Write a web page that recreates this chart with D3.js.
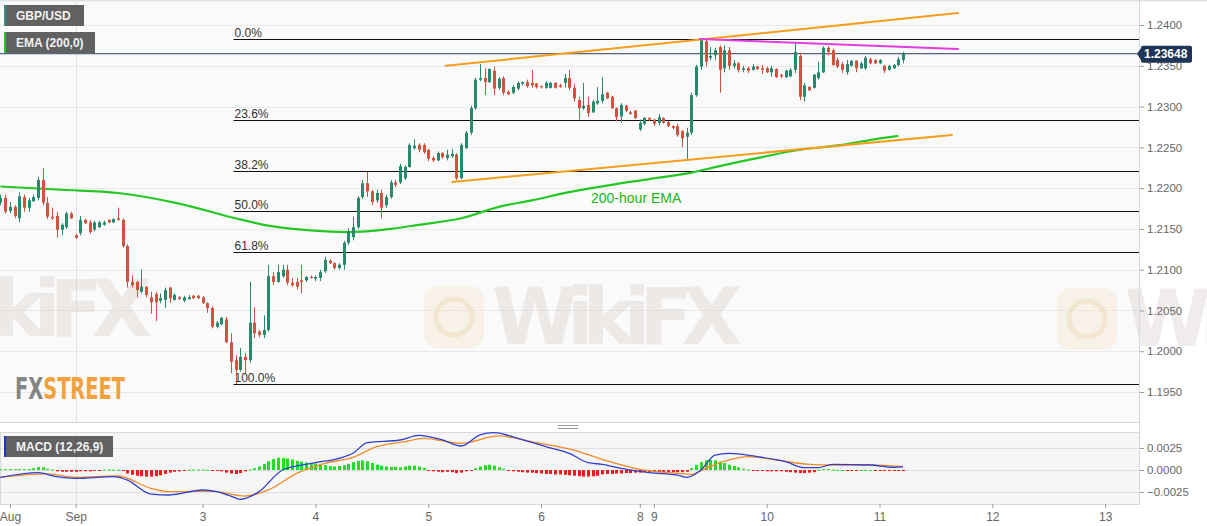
<!DOCTYPE html>
<html><head><meta charset="utf-8">
<script src="https://cdn.jsdelivr.net/npm/d3@7/dist/d3.min.js"></script>
<style>
body{margin:0;background:#fff;}
svg{display:block;font-family:"Liberation Sans",Arial,sans-serif;}
</style>
</head><body>
<svg id="chart" width="1207" height="526"></svg>
<script>
// ---------- DATA (hourly candles, index = hour) ----------
const opens = [1.2182,1.2188,1.2172,1.2177,1.2163,1.2189,1.2176,1.2184,1.2188,1.2210,
1.2182,1.2165,1.2166,1.2149,1.2152,1.2169,1.2142,1.2145,1.2161,1.2158,
1.2149,1.2152,1.2155,1.2161,1.2158,1.2163,1.2161,1.2129,1.2085,1.2085,
1.2073,1.2079,1.2066,1.2070,1.2062,1.2063,1.2078,1.2063,1.2066,1.2062,
1.2064,1.2068,1.2068,1.2066,1.2059,1.2053,1.2030,1.2033,1.2039,1.2011,
1.1989,1.1977,1.1993,1.1989,1.2035,1.2024,1.2020,1.2026,1.2092,1.2085,
1.2092,1.2100,1.2084,1.2085,1.2087,1.2087,1.2091,1.2089,1.2090,1.2098,
1.2111,1.2108,1.2102,1.2106,1.2133,1.2140,1.2152,1.2189,1.2206,1.2196,
1.2185,1.2194,1.2179,1.2189,1.2207,1.2207,1.2212,1.2226,1.2249,1.2253,
1.2253,1.2247,1.2237,1.2234,1.2243,1.2237,1.2239,1.2241,1.2212,1.2249,
1.2268,1.2298,1.2333,1.2335,1.2330,1.2344,1.2323,1.2335,1.2318,1.2317,
1.2322,1.2328,1.2330,1.2329,1.2328,1.2325,1.2323,1.2323,1.2329,1.2326,
1.2329,1.2335,1.2323,1.2308,1.2298,1.2302,1.2293,1.2304,1.2307,1.2317,
1.2312,1.2298,1.2288,1.2301,1.2293,1.2295,1.2272,1.2279,1.2286,1.2284,
1.2280,1.2286,1.2281,1.2276,1.2276,1.2270,1.2263,1.2268,1.2314,1.2349,
1.2380,1.2360,1.2363,1.2373,1.2347,1.2369,1.2350,1.2353,1.2345,1.2347,
1.2345,1.2349,1.2347,1.2347,1.2342,1.2346,1.2339,1.2336,1.2337,1.2345,
1.2362,1.2312,1.2324,1.2323,1.2335,1.2342,1.2372,1.2369,1.2357,1.2352,
1.2342,1.2350,1.2356,1.2347,1.2347,1.2358,1.2357,1.2353,1.2350,1.2345,
1.2347,1.2351,1.2357];
const highs = [1.2192,1.2192,1.2183,1.2179,1.2195,1.2192,1.2188,1.2192,1.2214,1.2225,
1.2189,1.2176,1.2171,1.2157,1.2171,1.2171,1.2144,1.2166,1.2162,1.2161,
1.2160,1.2160,1.2160,1.2162,1.2163,1.2176,1.2163,1.2131,1.2093,1.2086,
1.2100,1.2080,1.2073,1.2073,1.2071,1.2078,1.2079,1.2071,1.2068,1.2068,
1.2069,1.2069,1.2069,1.2068,1.2060,1.2055,1.2037,1.2042,1.2042,1.2022,
1.1995,1.2004,1.1998,1.2085,1.2054,1.2026,1.2044,1.2106,1.2097,1.2106,
1.2106,1.2106,1.2090,1.2090,1.2106,1.2092,1.2093,1.2093,1.2100,1.2116,
1.2113,1.2109,1.2108,1.2135,1.2151,1.2165,1.2190,1.2210,1.2220,1.2198,
1.2198,1.2198,1.2192,1.2210,1.2210,1.2230,1.2228,1.2255,1.2260,1.2255,
1.2255,1.2248,1.2239,1.2245,1.2244,1.2247,1.2248,1.2243,1.2255,1.2270,
1.2301,1.2335,1.2352,1.2347,1.2347,1.2349,1.2336,1.2337,1.2320,1.2326,
1.2331,1.2331,1.2333,1.2345,1.2329,1.2326,1.2331,1.2330,1.2330,1.2328,
1.2340,1.2345,1.2328,1.2312,1.2329,1.2312,1.2308,1.2324,1.2336,1.2318,
1.2313,1.2299,1.2304,1.2302,1.2295,1.2296,1.2284,1.2287,1.2287,1.2285,
1.2291,1.2287,1.2282,1.2277,1.2279,1.2271,1.2274,1.2317,1.2351,1.2383,
1.2383,1.2373,1.2372,1.2375,1.2375,1.2373,1.2357,1.2355,1.2350,1.2349,
1.2352,1.2350,1.2351,1.2349,1.2350,1.2347,1.2340,1.2345,1.2347,1.2378,
1.2366,1.2329,1.2325,1.2340,1.2355,1.2374,1.2374,1.2371,1.2360,1.2355,
1.2357,1.2357,1.2357,1.2355,1.2362,1.2360,1.2358,1.2358,1.2351,1.2351,
1.2352,1.2361,1.2367];
const lows = [1.2179,1.2169,1.2169,1.2163,1.2158,1.2171,1.2171,1.2183,1.2185,1.2179,
1.2162,1.2161,1.2139,1.2142,1.2150,1.2162,1.2138,1.2142,1.2156,1.2144,
1.2147,1.2151,1.2154,1.2157,1.2157,1.2160,1.2127,1.2078,1.2078,1.2066,
1.2071,1.2066,1.2046,1.2037,1.2059,1.2053,1.2059,1.2062,1.2063,1.2060,
1.2063,1.2064,1.2064,1.2058,1.2047,1.2028,1.2028,1.2032,1.2010,1.1973,
1.1960,1.1975,1.1973,1.1986,1.2016,1.2017,1.2016,1.2024,1.2081,1.2084,
1.2090,1.2081,1.2079,1.2076,1.2071,1.2085,1.2089,1.2086,1.2086,1.2096,
1.2107,1.2100,1.2100,1.2100,1.2130,1.2136,1.2150,1.2187,1.2189,1.2179,
1.2182,1.2163,1.2176,1.2187,1.2201,1.2205,1.2210,1.2225,1.2247,1.2244,
1.2242,1.2233,1.2232,1.2233,1.2236,1.2234,1.2237,1.2210,1.2211,1.2248,
1.2265,1.2296,1.2331,1.2314,1.2329,1.2314,1.2320,1.2314,1.2314,1.2315,
1.2320,1.2326,1.2323,1.2323,1.2322,1.2322,1.2322,1.2322,1.2322,1.2323,
1.2323,1.2320,1.2306,1.2284,1.2296,1.2287,1.2292,1.2302,1.2304,1.2309,
1.2297,1.2282,1.2280,1.2293,1.2290,1.2285,1.2270,1.2277,1.2282,1.2276,
1.2277,1.2279,1.2275,1.2272,1.2263,1.2250,1.2234,1.2265,1.2312,1.2345,
1.2349,1.2357,1.2357,1.2317,1.2342,1.2345,1.2347,1.2342,1.2342,1.2341,
1.2344,1.2345,1.2340,1.2341,1.2337,1.2335,1.2335,1.2335,1.2336,1.2341,
1.2308,1.2306,1.2319,1.2322,1.2333,1.2341,1.2363,1.2350,1.2347,1.2341,
1.2339,1.2349,1.2342,1.2346,1.2345,1.2352,1.2352,1.2352,1.2341,1.2344,
1.2346,1.2349,1.2353];
const closes = [1.2188,1.2171,1.2177,1.2166,1.2190,1.2176,1.2185,1.2189,1.2210,1.2182,
1.2165,1.2163,1.2149,1.2155,1.2169,1.2163,1.2139,1.2161,1.2157,1.2146,
1.2158,1.2158,1.2158,1.2158,1.2162,1.2161,1.2129,1.2085,1.2081,1.2075,
1.2079,1.2069,1.2060,1.2060,1.2065,1.2075,1.2065,1.2069,1.2064,1.2066,
1.2066,1.2065,1.2065,1.2059,1.2053,1.2030,1.2035,1.2041,1.2011,1.1987,
1.1977,1.1993,1.1989,1.2035,1.2022,1.2020,1.2026,1.2092,1.2085,1.2097,
1.2100,1.2084,1.2081,1.2079,1.2085,1.2091,1.2090,1.2091,1.2097,1.2112,
1.2108,1.2102,1.2106,1.2133,1.2147,1.2152,1.2188,1.2206,1.2196,1.2183,
1.2194,1.2176,1.2189,1.2207,1.2204,1.2227,1.2226,1.2253,1.2252,1.2247,
1.2244,1.2236,1.2234,1.2243,1.2238,1.2241,1.2242,1.2212,1.2253,1.2268,
1.2298,1.2333,1.2335,1.2330,1.2346,1.2322,1.2334,1.2317,1.2315,1.2324,
1.2329,1.2330,1.2325,1.2326,1.2324,1.2324,1.2329,1.2329,1.2323,1.2324,
1.2335,1.2323,1.2310,1.2298,1.2301,1.2292,1.2306,1.2307,1.2315,1.2310,
1.2298,1.2287,1.2302,1.2295,1.2291,1.2286,1.2280,1.2286,1.2284,1.2279,
1.2287,1.2280,1.2276,1.2274,1.2265,1.2261,1.2268,1.2314,1.2349,1.2382,
1.2355,1.2362,1.2369,1.2345,1.2369,1.2350,1.2353,1.2345,1.2347,1.2344,
1.2349,1.2346,1.2345,1.2342,1.2347,1.2336,1.2337,1.2344,1.2345,1.2367,
1.2312,1.2326,1.2320,1.2339,1.2342,1.2372,1.2367,1.2351,1.2349,1.2345,
1.2352,1.2356,1.2347,1.2353,1.2360,1.2353,1.2353,1.2357,1.2344,1.2350,
1.2351,1.2358,1.23648];

// 200-hour EMA (read at selected hours)
const emaHours  = [0,13,25,38,50,56,64,74,83,89,98,106,113,121,130,138,147,153,162,170,179,185,191];
const emaValues = [1.2202,1.2198,1.2194,1.2181,1.2163,1.2155,1.2149,1.2146,1.2150,1.2155,1.2163,1.2177,1.2185,1.2195,1.2204,1.2211,1.2219,1.2227,1.2238,1.2247,1.2253,1.2259,1.2264];

// trend lines: [hourStart, priceStart, hourEnd, priceEnd]
const upperChannel = [94.7, 1.2350, 203.7, 1.24147];
const lowerChannel = [96.1, 1.22075, 202.4, 1.22651];
const resistance   = [148.8, 1.23828, 203.7, 1.23706];

const fibRatios = [0, 0.236, 0.382, 0.5, 0.618, 1];
const fibLabels = ["0.0%","23.6%","38.2%","50.0%","61.8%","100.0%"];

// MACD (12,26,9)
const macdHours = [0,8,12,16,24,27,32,36,43,46,49,51,55,60,67,72,75,78,85,89,94,98,102,105,110,116,121,125,128,132,138,144,146,149,152,155,161,167,171,174,177,185,190,192];
const macdValues = [-0.00083,-0.00030,-0.00076,-0.00095,-0.00076,-0.00114,-0.00273,-0.00284,-0.00227,-0.00246,-0.00296,-0.00334,-0.00246,0.0000,0.00083,0.00133,0.00190,0.00311,0.00341,0.00394,0.00341,0.00273,0.00398,0.00424,0.00360,0.00265,0.00190,0.00083,0.00064,0.00019,-0.00030,-0.00057,-0.00083,0.0000,0.00170,0.00190,0.00152,0.00095,0.00027,0.00027,0.00064,0.00057,0.00030,0.00038];
const signalHours = [0,10,16,25,32,36,45,52,57,63,69,75,80,86,90,98,106,114,122,128,136,144,147,150,155,159,165,172,177,185,192];
const signalValues = [-0.00083,-0.00045,-0.00083,-0.00068,-0.00208,-0.00246,-0.00239,-0.00296,-0.00227,-0.00038,0.00076,0.00144,0.00265,0.00322,0.00360,0.00303,0.00387,0.00311,0.00227,0.00121,0.00008,-0.00038,-0.00049,0.00019,0.00114,0.00152,0.00114,0.00064,0.00057,0.00057,0.00038];
const histValues = [0.0001,0.0001,0.0001,0.0001,0.0001,0.0001,0.0001,0.0002,0.00035,0.0003,
0.00015,0.00005,-0.00015,-0.0002,-0.0002,-0.0002,-0.0002,-0.00015,-0.00015,-0.00015,
-0.00005,-0.00005,0.00005,0.00005,0.00005,0.00003,-0.0001,-0.0004,-0.00055,-0.00065,
-0.0007,-0.00075,-0.00075,-0.0007,-0.0006,-0.00045,-0.0003,-0.0002,-0.00015,-0.0001,
0.00003,0.00005,0.00005,0.00005,0.00003,-0.00003,-0.00005,-0.00015,-0.0003,-0.0004,
-0.00045,-0.00035,-0.00015,0.00005,0.0002,0.0004,0.0007,0.001,0.00125,0.0014,
0.00135,0.0013,0.0012,0.00105,0.00095,0.00085,0.0008,0.00075,0.0007,0.00055,
0.00045,0.0004,0.00045,0.00055,0.0007,0.0009,0.00105,0.0011,0.001,0.0008,
0.0006,0.0005,0.0004,0.00035,0.00035,0.0003,0.0004,0.0005,0.0005,0.0004,
0.00025,-0.0001,-0.00015,-0.0002,-0.00025,-0.0002,-0.00025,-0.00035,-0.0003,-0.00015,
-0.00005,0.0002,0.0004,0.00055,0.0006,0.0005,0.0003,0.00015,-0.0001,-0.00015,
-0.0002,-0.00025,-0.0003,-0.0003,-0.00035,-0.0004,-0.00045,-0.00045,-0.0005,-0.0005,
-0.00055,-0.0006,-0.00065,-0.0007,-0.00075,-0.00075,-0.0007,-0.00065,-0.0005,-0.00045,
-0.00045,-0.0004,-0.0004,-0.00035,-0.00035,-0.0003,-0.0003,-0.00025,-0.00025,-0.00025,
-0.00025,-0.00025,-0.00025,-0.00025,-0.00025,-0.00025,-0.0002,0.0002,0.0006,0.0009,
0.0011,0.00115,0.0011,0.00095,0.0008,0.0006,0.00045,0.0003,0.00015,0.00005,
-0.00005,-0.0001,-0.0001,-0.00015,-0.00015,-0.00015,-0.00015,-0.0002,-0.00025,-0.0003,
-0.00035,-0.00035,-0.0003,-0.00025,0.00005,0.0001,0.0001,0.00005,0.00002,0,
-0.00005,-0.00005,-0.00003,0,0.00002,0,-0.00005,-0.0001,-0.0001,-0.0001,
-0.0001,-0.00008,-0.00008];

// axes
const priceTicks = [1.1950,1.2000,1.2050,1.2100,1.2150,1.2200,1.2250,1.2300,1.2350,1.2400];
const macdTicks = [-0.0025,0,0.0025];
const timeTickHours  = [2,16,43,67,91,115,136,139,163,187,211,235];
const timeTickLabels = ["Aug","Sep","3","4","5","6","8","9","10","11","12","13"];
const monthBoundaryHour = 16;
const lastPrice = 1.23648;

// ---------- LAYOUT ----------
const svg = d3.select("#chart");
const plotRight = 1139;
const mainTop = 0, mainBottom = 422;
const macdTop = 432, macdBottom = 504;

const x = d3.scaleLinear().domain([-0.1, 242.2]).range([0, plotRight]);
const y = d3.scaleLinear().domain([1.1950, 1.2400]).range([392, 25]);
const ym = d3.scaleLinear().domain([-0.0025, 0.0025]).range([492, 448]);

// backgrounds
svg.append("rect").attr("x",0).attr("y",0).attr("width",1207).attr("height",526).attr("fill","#ffffff");
svg.append("rect").attr("x",0).attr("y",mainTop).attr("width",plotRight).attr("height",mainBottom-mainTop).attr("fill","#fafafa");
svg.append("rect").attr("x",0).attr("y",macdTop).attr("width",plotRight).attr("height",macdBottom-macdTop).attr("fill","#f6f6f6");
svg.append("line").attr("x1",0).attr("x2",1207).attr("y1",0.5).attr("y2",0.5).attr("stroke","#dde2ea").attr("stroke-width",2);

// grid
const grid = svg.append("g");
grid.selectAll(".hg").data(priceTicks).join("line")
  .attr("x1",0).attr("x2",plotRight).attr("y1",d=>Math.round(y(d))+0.5).attr("y2",d=>Math.round(y(d))+0.5)
  .attr("stroke","#e9e9e9");
grid.selectAll(".mg").data(macdTicks).join("line")
  .attr("x1",0).attr("x2",plotRight).attr("y1",d=>Math.round(ym(d))+0.5).attr("y2",d=>Math.round(ym(d))+0.5)
  .attr("stroke","#e0e0e0");
[[mainTop,mainBottom],[macdTop,macdBottom]].forEach(([a,b])=>{
  grid.append("line").attr("x1",Math.round(x(monthBoundaryHour))+0.5).attr("x2",Math.round(x(monthBoundaryHour))+0.5)
    .attr("y1",a).attr("y2",b).attr("stroke","#e2e2e2");
});

// watermarks
const wm = svg.append("g").attr("pointer-events","none");
function wmIcon(g){
  g.append("rect").attr("x",-68).attr("y",-58).attr("width",60).attr("height",62).attr("rx",14)
    .attr("fill","#f4dcb8").attr("opacity",0.28);
  g.append("circle").attr("cx",-38).attr("cy",-27).attr("r",18).attr("fill","none")
    .attr("stroke","#ecd0a8").attr("stroke-width",5).attr("opacity",0.35);
}
function watermark(tx, ty, withText){
  const g = wm.append("g").attr("transform",`translate(${tx},${ty})`);
  wmIcon(g);
  if (withText) {
    g.append("text").attr("x",0).attr("y",0).text("WikiFX")
      .attr("font-size",78).attr("font-weight","bold").attr("fill","#d4c9c5").attr("opacity",0.34)
      .attr("font-family","'DejaVu Sans',sans-serif").attr("textLength",250);
  }
}
watermark(492, 344, true);
watermark(-98, 336, true);
watermark(1125, 346, true);
watermark(495, -40, false);
watermark(1105, -40, false);

// fib levels
const hi = d3.max(highs), lo = d3.min(lows);
const loIdx = lows.indexOf(lo);
const fibG = svg.append("g");
fibRatios.forEach((r,i)=>{
  const v = hi - r*(hi-lo);
  const yy = Math.round(y(v))+0.5;
  const x0 = x(loIdx)-2;
  fibG.append("line").attr("x1",x0).attr("x2",plotRight).attr("y1",yy).attr("y2",yy)
    .attr("stroke","#111").attr("stroke-width",1);
  fibG.append("text").attr("x",x0+1).attr("y",yy-3).text(fibLabels[i])
    .attr("font-size",12).attr("fill","#333");
});

// current price line
svg.append("line").attr("x1",0).attr("x2",plotRight).attr("y1",y(lastPrice)).attr("y2",y(lastPrice))
  .attr("stroke","#2b3f63").attr("stroke-width",1);

// EMA
const emaLine = d3.line().x((d,i)=>x(emaHours[i])).y(d=>y(d)).curve(d3.curveMonotoneX);
svg.append("path").attr("d",emaLine(emaValues)).attr("fill","none").attr("stroke","#25c725").attr("stroke-width",2.2);

// candles
const up = "#27896d", down = "#d1533f";
const cg = svg.append("g");
const idx = d3.range(closes.length);
cg.selectAll(".wick").data(idx).join("line")
  .attr("x1",i=>Math.round(x(i))+0.5).attr("x2",i=>Math.round(x(i))+0.5)
  .attr("y1",i=>y(highs[i])).attr("y2",i=>y(lows[i]))
  .attr("stroke",i=>closes[i]>=opens[i]?up:down).attr("stroke-width",1);
cg.selectAll(".body").data(idx).join("rect")
  .attr("x",i=>Math.round(x(i))-1).attr("width",3)
  .attr("y",i=>y(Math.max(opens[i],closes[i])))
  .attr("height",i=>Math.max(1,Math.abs(y(opens[i])-y(closes[i]))))
  .attr("fill",i=>closes[i]>=opens[i]?up:down);

// trend lines
function tline(a,color){
  svg.append("line").attr("x1",x(a[0])).attr("y1",y(a[1])).attr("x2",x(a[2])).attr("y2",y(a[3]))
    .attr("stroke",color).attr("stroke-width",2).attr("stroke-linecap","round");
}
tline(upperChannel,"#f59d1c");
tline(lowerChannel,"#f59d1c");
tline(resistance,"#e23de0");

svg.append("text").attr("x",591).attr("y",203).text("200-hour EMA")
  .attr("font-size",14).attr("fill","#22b522");

// FXSTREET logo
const logo = svg.append("text").attr("x",15).attr("y",399).attr("font-size",30).attr("font-weight","bold")
  .attr("font-family","'Liberation Sans Narrow','DejaVu Sans Condensed',sans-serif")
  .attr("textLength",110).attr("lengthAdjust","spacingAndGlyphs");
logo.append("tspan").text("FX").attr("fill","#858585");
logo.append("tspan").text("STREET").attr("fill","#f2a23c");

// price axis
const yAxis = svg.append("g").attr("transform",`translate(${plotRight},0)`)
  .call(d3.axisRight(y).tickValues(priceTicks).tickFormat(d3.format(".4f")).tickSize(5).tickPadding(3));
yAxis.select(".domain").remove();
yAxis.selectAll("line").attr("stroke","#999");
yAxis.selectAll("text").attr("fill","#666").attr("font-size",11.5).attr("font-family","'Liberation Sans',Arial,sans-serif");

const mAxis = svg.append("g").attr("transform",`translate(${plotRight},0)`)
  .call(d3.axisRight(ym).tickValues(macdTicks).tickFormat(d3.format(".4f")).tickSize(5).tickPadding(3));
mAxis.select(".domain").remove();
mAxis.selectAll("line").attr("stroke","#999");
mAxis.selectAll("text").attr("fill","#666").attr("font-size",11.5).attr("font-family","'Liberation Sans',Arial,sans-serif");

// axis separators
svg.append("line").attr("x1",plotRight+0.5).attr("x2",plotRight+0.5).attr("y1",0).attr("y2",macdBottom)
  .attr("stroke","#d5d9e0");
svg.append("line").attr("x1",0).attr("x2",plotRight).attr("y1",mainBottom+0.5).attr("y2",mainBottom+0.5).attr("stroke","#d8d8d8");
svg.append("rect").attr("x",0.5).attr("y",macdTop+0.5).attr("width",plotRight).attr("height",macdBottom-macdTop)
  .attr("fill","none").attr("stroke","#d8d8d8");

// current price tag
const py = y(lastPrice);
svg.append("path").attr("d",`M${plotRight-2},${py} L${plotRight+3},${py-7} L${plotRight+3},${py+8} Z`).attr("fill","#1f3558");
svg.append("rect").attr("x",plotRight+2).attr("y",py-8).attr("width",51).attr("height",17).attr("rx",2).attr("fill","#1f3558");
svg.append("text").attr("x",plotRight+5).attr("y",py+4.5).text(lastPrice.toFixed(5))
  .attr("font-size",12).attr("font-weight","bold").attr("fill","#fff");

// grip
[425.5,428.5].forEach(gy=>svg.append("line").attr("x1",558).attr("x2",578).attr("y1",gy).attr("y2",gy).attr("stroke","#9a9a9a"));

// MACD histogram
const mg = svg.append("g");
mg.selectAll(".hist").data(histValues).join("rect")
  .attr("x",(d,i)=>Math.round(x(i))-1).attr("width",3)
  .attr("y",d=>Math.min(ym(d),ym(0))).attr("height",d=>Math.max(1,Math.abs(ym(d)-ym(0))))
  .attr("fill",d=>d>=0?"#22dd22":"#ee1c1c");
const macdLine = d3.line().x((d,i)=>x(macdHours[i])).y(d=>ym(d)).curve(d3.curveMonotoneX);
const sigLine = d3.line().x((d,i)=>x(signalHours[i])).y(d=>ym(d)).curve(d3.curveMonotoneX);
mg.append("path").attr("d",sigLine(signalValues)).attr("fill","none").attr("stroke","#f28a26").attr("stroke-width",1.3);
mg.append("path").attr("d",macdLine(macdValues)).attr("fill","none").attr("stroke","#2f3fcf").attr("stroke-width",1.3);

// time axis
const xAxis = svg.append("g").attr("transform",`translate(0,${macdBottom})`)
  .call(d3.axisBottom(x).tickValues(timeTickHours).tickFormat((d,i)=>timeTickLabels[i]).tickSize(4).tickPadding(4));
xAxis.select(".domain").remove();
xAxis.selectAll("line").attr("stroke","#999");
xAxis.selectAll("text").attr("fill","#666").attr("font-size",12).attr("font-family","'Liberation Sans',Arial,sans-serif");

// legend boxes
function legendBox(bx,by,w,txt,stripe){
  svg.append("rect").attr("x",bx).attr("y",by).attr("width",w).attr("height",21).attr("fill","#5c5c5c").attr("opacity",0.97);
  svg.append("rect").attr("x",bx).attr("y",by).attr("width",2).attr("height",21).attr("fill",stripe);
  svg.append("text").attr("x",bx+12).attr("y",by+15).text(txt)
    .attr("font-size",12).attr("font-weight","bold").attr("fill","#f2f2f2");
}
legendBox(4,5,80,"GBP/USD","#3f8a8a");
legendBox(4,32,91,"EMA (200,0)","#25c725");
legendBox(4,436,109,"MACD (12,26,9)","#2233bb");
</script>
</body></html>
